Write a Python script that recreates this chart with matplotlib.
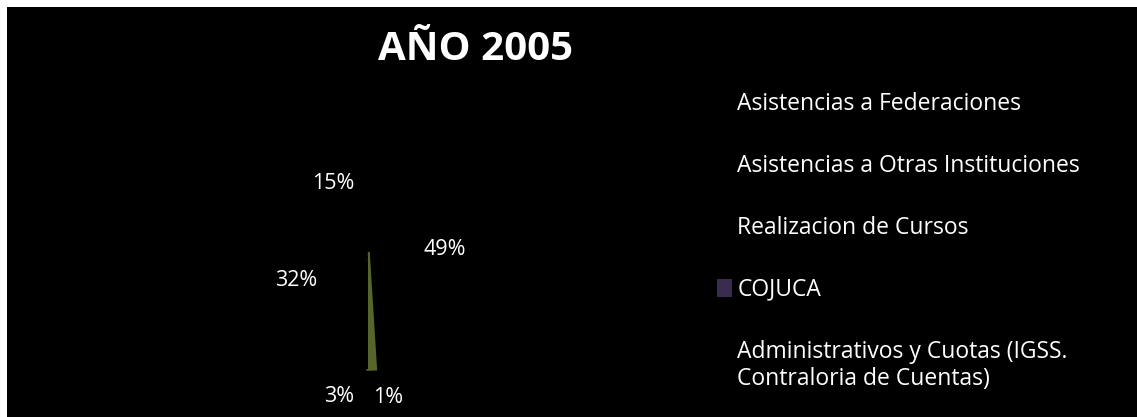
import numpy as np
import matplotlib.pyplot as plt
from matplotlib.patches import Rectangle, Patch

plt.rcParams['font.family'] = ['Open Sans', 'DejaVu Sans']

title = 'AÑO 2005'
categories = ['Asistencias a Federaciones',
              'Asistencias a Otras Instituciones',
              'Realizacion de Cursos',
              'COJUCA',
              'Administrativos y Cuotas (IGSS.\nContraloria de Cuentas)']
values = [49, 1, 3, 32, 15]
slice_colors = ['#000000', '#56652a', '#000000', '#000000', '#000000']
legend_colors = ['#000000', '#000000', '#000000', '#3a2b4f', '#000000']

W, H = 1137, 417
fig = plt.figure(figsize=(W / 100, H / 100), dpi=100)
fig.patch.set_facecolor('white')
fig.patches.append(Rectangle((7 / W, 0), 1, 1 - 7 / H, transform=fig.transFigure,
                             facecolor='black', edgecolor='none', zorder=-5))

# pie: centre (368, 252) px, radius 117 px
cx, cy, r = 368, 252, 117
ax = fig.add_axes([(cx - r) / W, (H - cy - r) / H, 2 * r / W, 2 * r / H])
ax.set_facecolor('none')
ax.set_zorder(2)
wedges, texts, autotexts = ax.pie(values, colors=slice_colors, startangle=90,
                                  counterclock=False, autopct='%1.0f%%',
                                  pctdistance=0.66,
                                  wedgeprops=dict(linewidth=0),
                                  textprops=dict(color='white', fontsize=15.5))
wedges[1].set_edgecolor('#56652a')
wedges[1].set_linewidth(2.5)
ax.set_xlim(-1, 1)
ax.set_ylim(-1, 1)
ax.set_aspect('auto')

# small slices get their labels outside, pushed apart
for w, t, v in zip(wedges, autotexts, values):
    if v < 5:
        mid = np.deg2rad((w.theta1 + w.theta2) / 2)
        t.set_position((1.24 * np.cos(mid), 1.24 * np.sin(mid)))
        t.set_ha('right' if np.cos(mid) < 0 else 'left')

fig.text(475 / W, 1 - 49 / H, title, color='white', fontsize=29,
         fontweight='bold', ha='center', va='center')

handles = [Patch(facecolor=c, edgecolor='none') for c in legend_colors]
fig.legend(handles, categories, loc='upper left',
           bbox_to_anchor=(696 / W, 1 - 71 / H), frameon=False,
           fontsize=16.5, labelcolor='white', labelspacing=1.66,
           handlelength=0.65, handleheight=0.8, handletextpad=0.26)

fig.savefig('out.png', dpi=100)
